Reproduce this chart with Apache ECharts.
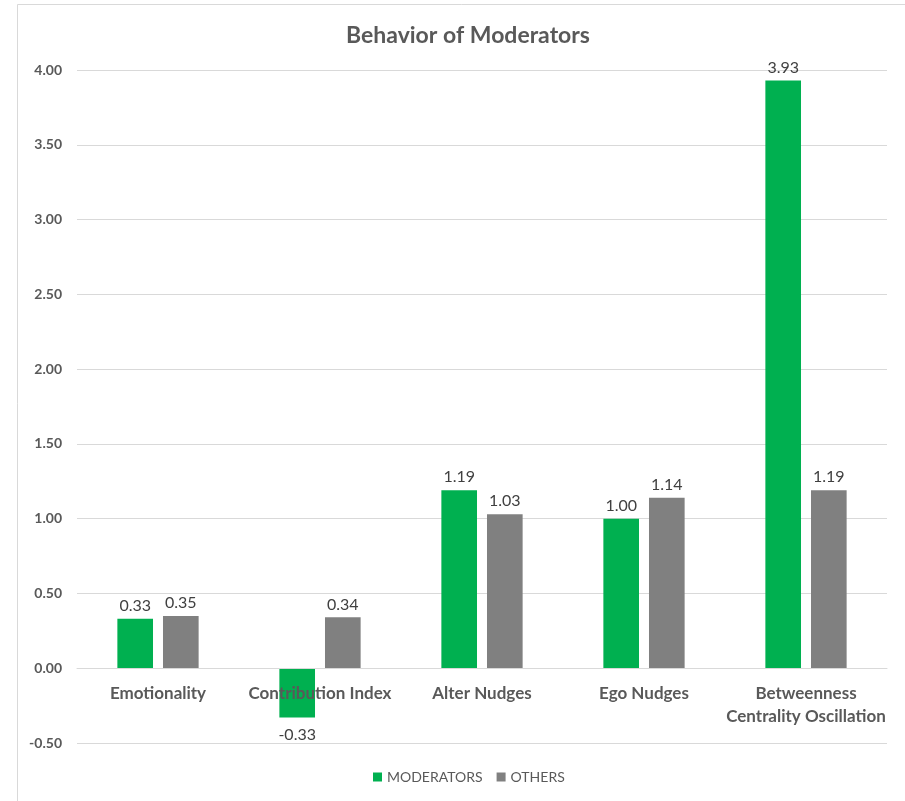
<!DOCTYPE html>
<html>
<head>
<meta charset="utf-8">
<script src="https://cdn.jsdelivr.net/npm/echarts@6/dist/echarts.min.js"></script>
<style>
html, body { margin: 0; padding: 0; background: #fff; }
#main { width: 905px; height: 801px; }
</style>
</head>
<body>
<div id="main"></div>
<script>
var categories = ['Emotionality', 'Contribution Index', 'Alter Nudges', 'Ego Nudges', 'Betweenness\nCentrality Oscillation'];
var moderators = [0.33, -0.33, 1.19, 1.00, 3.93];
var others = [0.35, 0.34, 1.03, 1.14, 1.19];

var font = 'Lato, "Liberation Sans", sans-serif';

function withLabels(arr) {
	return arr.map(function (v) {
		return { value: v, label: { position: v < 0 ? 'bottom' : 'top', distance: v < 0 ? 9 : 5 } };
	});
}

var myChart = echarts.init(document.getElementById('main'));

var option = {
	backgroundColor: '#fff',
	textStyle: { fontFamily: font },
	title: {
		text: 'Behavior of Moderators',
		left: 341,
		top: 19,
		textStyle: { fontFamily: font, fontSize: 23, fontWeight: 'bold', color: '#595959' }
	},
	graphic: [{
		type: 'rect',
		z: -1,
		shape: { x: 17.5, y: 4.5, width: 1000, height: 1000 },
		style: { fill: 'none', stroke: '#d9d9d9', lineWidth: 1 }
	}],
	legend: {
		data: ['MODERATORS', 'OTHERS'],
		top: 765,
		left: 368,
		itemWidth: 9,
		itemHeight: 9,
		itemGap: 14,
		icon: 'rect',
		textStyle: { fontFamily: font, fontSize: 14, color: '#595959' }
	},
	grid: {
		left: 77,
		right: 18,
		top: 70,
		bottom: 58,
		containLabel: false
	},
	xAxis: {
		type: 'category',
		data: categories,
		offset: -75,
		z: 5,
		axisLine: { onZero: false, lineStyle: { color: '#d9d9d9' } },
		axisTick: { show: false },
		axisLabel: {
			margin: 14,
			fontFamily: font,
			fontSize: 17,
			fontWeight: 'bold',
			color: '#595959',
			lineHeight: 23,
			interval: 0
		}
	},
	yAxis: {
		type: 'value',
		min: -0.5,
		max: 4,
		interval: 0.5,
		axisLine: { show: false },
		axisTick: { show: false },
		splitLine: { lineStyle: { color: '#d9d9d9' } },
		axisLabel: {
			margin: 15,
			fontFamily: font,
			fontSize: 14,
			fontWeight: 'bold',
			color: '#595959',
			formatter: function (v) { return v.toFixed(2); }
		}
	},
	series: [{
		name: 'MODERATORS',
		type: 'bar',
		barWidth: '22%',
		barGap: '28%',
		itemStyle: { color: '#00b050' },
		label: {
			show: true,
			fontFamily: font,
			fontSize: 16,
			color: '#404040',
			formatter: function (p) { return p.value.toFixed(2); }
		},
		data: withLabels(moderators)
	}, {
		name: 'OTHERS',
		type: 'bar',
		barWidth: '22%',
		itemStyle: { color: '#808080' },
		label: {
			show: true,
			fontFamily: font,
			fontSize: 16,
			color: '#404040',
			formatter: function (p) { return p.value.toFixed(2); }
		},
		data: withLabels(others)
	}]
};

myChart.setOption(option);
</script>
</body>
</html>
